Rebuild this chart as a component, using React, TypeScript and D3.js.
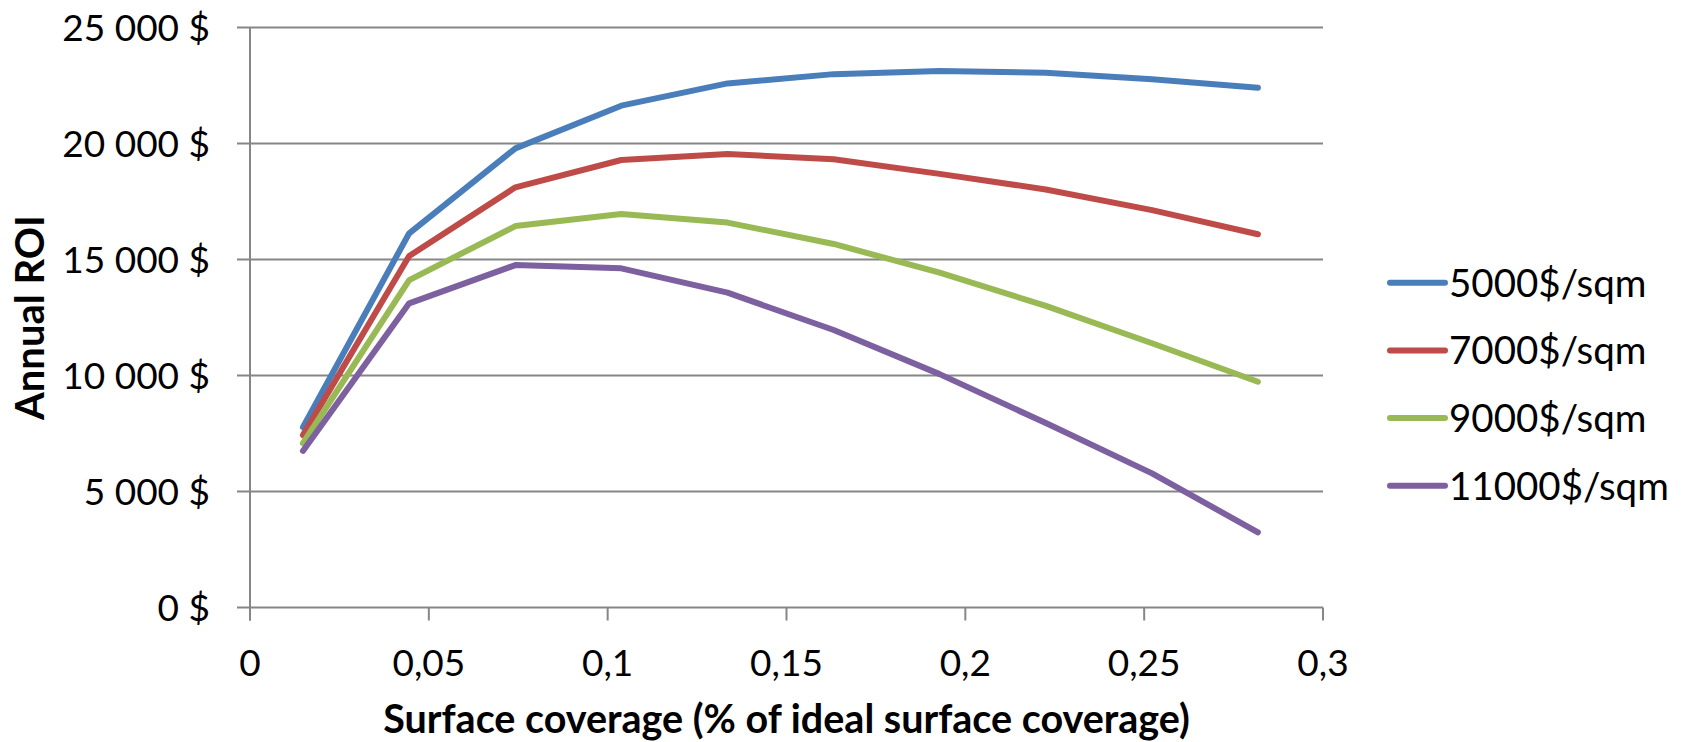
import React, { useEffect, useRef } from 'react';
import * as d3 from 'd3';

// Surface coverage (fraction of ideal)
const coverage = [0.0148, 0.0445, 0.0742, 0.1038, 0.1335, 0.1632, 0.1928, 0.2225, 0.2522, 0.2818];

const roi5000 = [7770, 16130, 19790, 21630, 22590, 22990, 23120, 23050, 22770, 22400];
const roi7000 = [7430, 15150, 18110, 19290, 19550, 19320, 18690, 18020, 17130, 16090];
const roi9000 = [7080, 14110, 16440, 16960, 16590, 15670, 14430, 13000, 11390, 9730];
const roi11000 = [6750, 13110, 14760, 14620, 13570, 11960, 10060, 7950, 5780, 3240];

const seriesNames = ['5000$/sqm', '7000$/sqm', '9000$/sqm', '11000$/sqm'];
const seriesValues = [roi5000, roi7000, roi9000, roi11000];
const seriesColors = ['#4a7ebb', '#be4b48', '#98b954', '#7d60a0'];

const xTicks = [0, 0.05, 0.1, 0.15, 0.2, 0.25, 0.3];
const yTicks = [0, 5000, 10000, 15000, 20000, 25000];

const FONT = 'Lato, "Open Sans", sans-serif';

const App = () => {
    const svgRef = useRef(null);

    useEffect(() => {
        if (!svgRef.current) return;

        const width = 1687;
        const height = 742;
        // plot area
        const left = 250, right = 1323, top = 27.5, bottom = 607.5;

        const svg = d3.select(svgRef.current);
        svg.selectAll('*').remove();
        svg.attr('width', width).attr('height', height);

        svg.append('rect').attr('width', width).attr('height', height).attr('fill', '#fff');

        const xScale = d3.scaleLinear().domain([0, 0.3]).range([left, right]);
        const yScale = d3.scaleLinear().domain([0, 25000]).range([bottom, top]);

        const gridColor = '#868686';

        // Horizontal gridlines + y ticks
        svg.append('g')
            .selectAll('line')
            .data(yTicks)
            .join('line')
            .attr('x1', left - 13)
            .attr('x2', right)
            .attr('y1', d => yScale(d))
            .attr('y2', d => yScale(d))
            .attr('stroke', gridColor)
            .attr('stroke-width', 2);

        // Y axis line
        svg.append('line')
            .attr('x1', left).attr('x2', left)
            .attr('y1', top).attr('y2', bottom + 13)
            .attr('stroke', gridColor)
            .attr('stroke-width', 2);

        // X ticks
        svg.append('g')
            .selectAll('line')
            .data(xTicks)
            .join('line')
            .attr('x1', d => xScale(d))
            .attr('x2', d => xScale(d))
            .attr('y1', bottom)
            .attr('y2', bottom + 13)
            .attr('stroke', gridColor)
            .attr('stroke-width', 2);

        // Y tick labels
        const fmtY = (d: number) => (d === 0 ? '0 $' : d3.format(',')(d).replace(/,/g, ' ') + ' $');
        svg.append('g')
            .selectAll('text')
            .data(yTicks)
            .join('text')
            .attr('x', 210)
            .attr('y', d => yScale(d))
            .attr('dy', '0.36em')
            .attr('text-anchor', 'end')
            .attr('font-family', FONT)
            .attr('font-size', 37)
            .attr('fill', '#000')
            .text(d => fmtY(d));

        // X tick labels
        svg.append('g')
            .selectAll('text')
            .data(xTicks)
            .join('text')
            .attr('x', d => xScale(d))
            .attr('y', 676)
            .attr('text-anchor', 'middle')
            .attr('font-family', FONT)
            .attr('font-size', 37)
            .attr('fill', '#000')
            .text(d => String(d).replace('.', ','));

        // Axis titles
        svg.append('text')
            .attr('x', (left + right) / 2)
            .attr('y', 733)
            .attr('text-anchor', 'middle')
            .attr('font-family', FONT)
            .attr('font-weight', 'bold')
            .attr('font-size', 39.5)
            .text('Surface coverage (% of ideal surface coverage)');

        svg.append('text')
            .attr('transform', `translate(44,${(top + bottom) / 2}) rotate(-90)`)
            .attr('text-anchor', 'middle')
            .attr('font-family', FONT)
            .attr('font-weight', 'bold')
            .attr('font-size', 40)
            .text('Annual ROI');

        // Lines
        const line = d3.line<number>()
            .x((d, i) => xScale(coverage[i]))
            .y(d => yScale(d));

        seriesValues.forEach((vals, i) => {
            svg.append('path')
                .datum(vals)
                .attr('fill', 'none')
                .attr('stroke', seriesColors[i])
                .attr('stroke-width', 6)
                .attr('stroke-linejoin', 'round')
                .attr('stroke-linecap', 'round')
                .attr('d', line);
        });

        // Legend
        const legend = svg.append('g');
        seriesNames.forEach((name, i) => {
            const ly = 282.7 + i * 67.7;
            legend.append('line')
                .attr('x1', 1390).attr('x2', 1445)
                .attr('y1', ly).attr('y2', ly)
                .attr('stroke', seriesColors[i])
                .attr('stroke-width', 6)
                .attr('stroke-linecap', 'round');
            legend.append('text')
                .attr('x', 1449)
                .attr('y', ly)
                .attr('dy', '0.36em')
                .attr('font-family', FONT)
                .attr('font-size', 38.5)
                .attr('fill', '#000')
                .text(name);
        });
    }, []);

    return (
        <div style={{ position: 'absolute', left: 0, top: 0 }}>
            <svg ref={svgRef} style={{ display: 'block' }}></svg>
        </div>
    );
};

export default App;
